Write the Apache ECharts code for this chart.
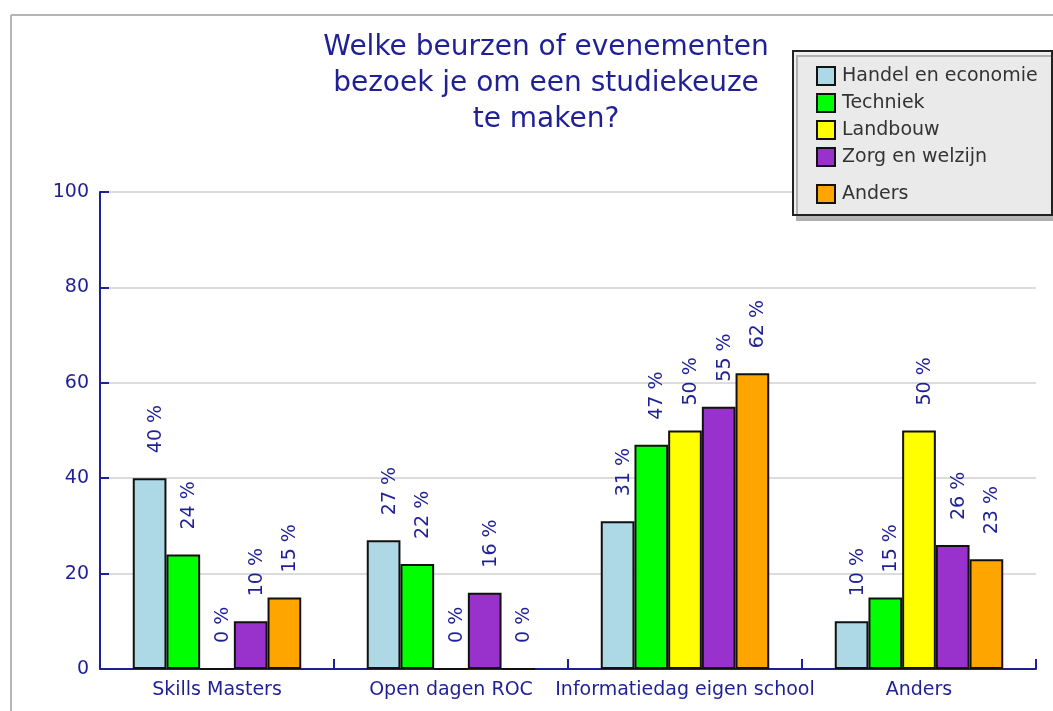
<!DOCTYPE html>
<html>
<head>
<meta charset="utf-8">
<script src="https://cdn.jsdelivr.net/npm/echarts@6/dist/echarts.min.js"></script>
<style>html,body{margin:0;padding:0;background:#fff;}#c{width:1053px;height:711px;}</style>
</head>
<body>
<div id="c"></div>
<script>
const categories = ['Skills Masters', 'Open dagen ROC', 'Informatiedag eigen school', 'Anders'];
const seriesNames = ['Handel en economie', 'Techniek', 'Landbouw', 'Zorg en welzijn', 'Anders'];
const handel = [40, 27, 31, 10];
const techniek = [24, 22, 47, 15];
const landbouw = [0, 0, 50, 50];
const zorg = [10, 16, 55, 26];
const anders = [15, 0, 62, 23];
const yTicks = [0, 20, 40, 60, 80, 100];
const colors = ['#add8e6', '#00ff00', '#ffff00', '#9932cc', '#ffa500'];

const navy = '#1f1f96';
const font = 'DejaVu Sans';
const values = [handel, techniek, landbouw, zorg, anders];

const chart = echarts.init(document.getElementById('c'), null, {renderer: 'canvas'});
chart.setOption({
  animation: false,
  backgroundColor: '#fff',
  title: {
    text: 'Welke beurzen of evenementen\nbezoek je om een studiekeuze\nte maken?',
    left: 541, top: 25, textAlign: 'center',
    textStyle: {color: navy, fontFamily: font, fontSize: 28, fontWeight: 'normal', lineHeight: 36}
  },
  graphic: [
    {type: 'line', shape: {x1: 11, y1: 15, x2: 1053, y2: 15}, style: {stroke: '#b4b4b4', lineWidth: 2}, z: 1},
    {type: 'line', shape: {x1: 11, y1: 15, x2: 11, y2: 711}, style: {stroke: '#b4b4b4', lineWidth: 2}, z: 1},
    {type: 'rect', shape: {x: 793, y: 51, width: 259, height: 164},
     style: {fill: 'rgba(238,238,238,0.93)', stroke: '#222', lineWidth: 2, shadowColor: '#b0b0b0', shadowOffsetX: 4, shadowOffsetY: 5, shadowBlur: 0}, z: 10}
  ],
  legend: [
    {data: seriesNames.slice(0, 4), orient: 'vertical', left: 811, top: 61, itemWidth: 18, itemHeight: 18, itemGap: 7, icon: 'rect', z: 12,
     itemStyle: {borderColor: '#111', borderWidth: 2},
     textStyle: {color: '#333', fontFamily: font, fontSize: 19, padding: [0, 0, 0, 2]}},
    {data: seriesNames.slice(4), orient: 'vertical', left: 811, top: 179, itemWidth: 18, itemHeight: 18, icon: 'rect', z: 12,
     itemStyle: {borderColor: '#111', borderWidth: 2},
     textStyle: {color: '#333', fontFamily: font, fontSize: 19, padding: [0, 0, 0, 2]}}
  ],
  grid: {left: 100, right: 17, top: 192, bottom: 42, containLabel: false},
  xAxis: {
    type: 'category', data: categories,
    axisLine: {show: true, lineStyle: {color: navy, width: 2}},
    axisTick: {show: true, inside: true, length: 10, interval: 0, alignWithLabel: false, lineStyle: {color: navy, width: 2}},
    axisLabel: {color: navy, fontFamily: font, fontSize: 19, margin: 12, interval: 0}
  },
  yAxis: {
    type: 'value', min: 0, max: 100, interval: 20,
    axisLine: {show: true, lineStyle: {color: navy, width: 2}},
    axisTick: {show: true, inside: true, length: 9, lineStyle: {color: navy, width: 2}},
    axisLabel: {color: navy, fontFamily: font, fontSize: 19, margin: 11,
      formatter: v => yTicks.includes(v) ? String(v) : ''},
    splitLine: {lineStyle: {color: '#dcdcdc', width: 2}}
  },
  series: seriesNames.map((name, i) => ({
    name, type: 'bar', data: values[i],
    barGap: '0%', barCategoryGap: '28%',
    itemStyle: {color: colors[i], borderColor: '#111', borderWidth: 2},
    label: {show: true, position: 'top', rotate: 90, align: 'left', verticalAlign: 'middle', distance: 25,
      offset: [0, 6],
      formatter: '{c} %', color: navy, fontFamily: font, fontSize: 19}
  }))
});
</script>
</body>
</html>
